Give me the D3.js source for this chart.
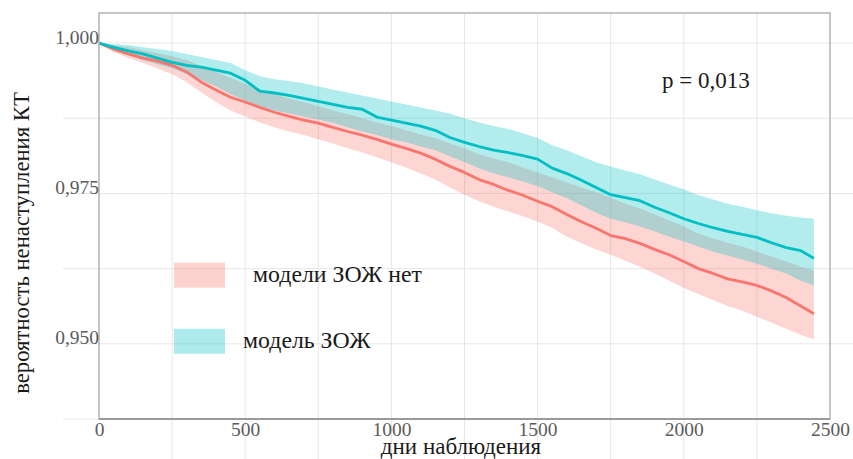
<!DOCTYPE html>
<html lang="ru">
<head>
<meta charset="UTF-8">
<title>Кривые дожития</title>
<script src="https://d3js.org/d3.v7.min.js"></script>
<style>
  body { margin: 0; background: #fff; }
  svg { display: block; font-family: "Liberation Serif", "Times New Roman", serif; }
  .grid line { stroke: #e6e6e6; stroke-width: 1; }
  .tick-label { fill: #5b5b5b; font-size: 19.5px; }
  .title { fill: #1a1a1a; font-size: 23px; }
</style>
</head>
<body>
<svg width="853" height="459"></svg>
<script>
// observation days (shared by all series)
const days = [0, 50, 100, 150, 200, 250, 300, 350, 400, 450, 500, 550, 600, 650, 700, 750, 800, 850, 900, 950,
  1000, 1050, 1100, 1150, 1200, 1250, 1300, 1350, 1400, 1450, 1500, 1550, 1600, 1650, 1700, 1750, 1800, 1850, 1900, 1950,
  2000, 2050, 2100, 2150, 2200, 2250, 2300, 2350, 2400, 2445];

// "модель ЗОЖ"
const zozhSurv = [1.0000, 0.9993, 0.9987, 0.9982, 0.9975, 0.9968, 0.9963, 0.9960, 0.9955, 0.9950,
  0.9938, 0.9920, 0.9917, 0.9913, 0.9908, 0.9903, 0.9898, 0.9893, 0.9890, 0.9877,
  0.9872, 0.9867, 0.9862, 0.9855, 0.9843, 0.9835, 0.9828, 0.9822, 0.9818, 0.9813,
  0.9807, 0.9792, 0.9783, 0.9772, 0.9760, 0.9748, 0.9743, 0.9738, 0.9727, 0.9718,
  0.9708, 0.9700, 0.9693, 0.9687, 0.9682, 0.9677, 0.9668, 0.9660, 0.9655, 0.9642];
const zozhUpper = [1.0000, 0.9998, 0.9997, 0.9993, 0.9990, 0.9987, 0.9982, 0.9977, 0.9972, 0.9967,
  0.9955, 0.9945, 0.9940, 0.9937, 0.9933, 0.9928, 0.9923, 0.9918, 0.9913, 0.9908,
  0.9903, 0.9898, 0.9893, 0.9888, 0.9883, 0.9875, 0.9868, 0.9862, 0.9857, 0.9850,
  0.9842, 0.9830, 0.9822, 0.9812, 0.9802, 0.9795, 0.9788, 0.9782, 0.9773, 0.9765,
  0.9757, 0.9747, 0.9740, 0.9733, 0.9728, 0.9722, 0.9717, 0.9713, 0.9710, 0.9708];
const zozhLower = [1.0000, 0.9988, 0.9980, 0.9972, 0.9965, 0.9958, 0.9948, 0.9938, 0.9928, 0.9915,
  0.9905, 0.9895, 0.9888, 0.9883, 0.9878, 0.9873, 0.9867, 0.9860, 0.9853, 0.9847,
  0.9840, 0.9835, 0.9828, 0.9822, 0.9812, 0.9802, 0.9792, 0.9783, 0.9777, 0.9770,
  0.9762, 0.9752, 0.9742, 0.9730, 0.9718, 0.9708, 0.9702, 0.9695, 0.9687, 0.9678,
  0.9670, 0.9662, 0.9653, 0.9647, 0.9640, 0.9633, 0.9625, 0.9617, 0.9605, 0.9597];

// "модели ЗОЖ нет"
const noZozhSurv = [1.0000, 0.9990, 0.9982, 0.9975, 0.9970, 0.9963, 0.9952, 0.9935, 0.9922, 0.9910,
  0.9902, 0.9893, 0.9885, 0.9878, 0.9872, 0.9867, 0.9860, 0.9853, 0.9847, 0.9840,
  0.9832, 0.9825, 0.9817, 0.9807, 0.9795, 0.9785, 0.9773, 0.9765, 0.9755, 0.9747,
  0.9737, 0.9728, 0.9715, 0.9703, 0.9692, 0.9680, 0.9675, 0.9667, 0.9657, 0.9648,
  0.9637, 0.9625, 0.9617, 0.9608, 0.9603, 0.9597, 0.9588, 0.9577, 0.9563, 0.9550];
const noZozhUpper = [1.0000, 0.9997, 0.9993, 0.9988, 0.9983, 0.9978, 0.9972, 0.9962, 0.9952, 0.9942,
  0.9932, 0.9923, 0.9915, 0.9908, 0.9902, 0.9895, 0.9888, 0.9882, 0.9875, 0.9868,
  0.9862, 0.9855, 0.9848, 0.9842, 0.9833, 0.9825, 0.9815, 0.9808, 0.9802, 0.9793,
  0.9785, 0.9777, 0.9768, 0.9760, 0.9752, 0.9743, 0.9733, 0.9725, 0.9715, 0.9705,
  0.9695, 0.9683, 0.9675, 0.9668, 0.9662, 0.9653, 0.9645, 0.9637, 0.9628, 0.9622];
const noZozhLower = [1.0000, 0.9985, 0.9975, 0.9967, 0.9958, 0.9948, 0.9935, 0.9918, 0.9902, 0.9888,
  0.9878, 0.9868, 0.9860, 0.9853, 0.9847, 0.9840, 0.9833, 0.9825, 0.9818, 0.9810,
  0.9802, 0.9793, 0.9783, 0.9773, 0.9760, 0.9748, 0.9737, 0.9728, 0.9720, 0.9712,
  0.9703, 0.9693, 0.9678, 0.9667, 0.9657, 0.9648, 0.9638, 0.9628, 0.9617, 0.9605,
  0.9593, 0.9583, 0.9573, 0.9563, 0.9555, 0.9545, 0.9535, 0.9525, 0.9515, 0.9507];

const xTicks = [0, 500, 1000, 1500, 2000, 2500];
const xGrid = [250, 500, 750, 1000, 1250, 1500, 1750, 2000, 2250];
const yTicks = [0.950, 0.975, 1.000];
const yGrid = [0.9375, 0.950, 0.9625, 0.975, 0.9875, 1.000];

const groups = [
  { label: "модели ЗОЖ нет", surv: noZozhSurv, lo: noZozhLower, hi: noZozhUpper, color: "#F8766D" },
  { label: "модель ЗОЖ", surv: zozhSurv, lo: zozhLower, hi: zozhUpper, color: "#00BFC4" }
];

const svg = d3.select("svg");
const panel = { left: 99, right: 830, top: 13, bottom: 419 };

const x = d3.scaleLinear().domain([0, 2500]).range([panel.left, panel.right]);
const y = d3.scaleLinear().domain([0.9375, 1.005]).range([panel.bottom, panel.top]);

const ru = d3.formatLocale({ decimal: ",", thousands: " ", grouping: [3], currency: ["", ""] });
const fmt = ru.format(".3f");

// grid lines (they run past the panel in the original)
const grid = svg.append("g").attr("class", "grid");
grid.selectAll(".h").data(yGrid).enter().append("line")
    .attr("x1", 63).attr("x2", d => d === 0.9375 ? panel.right : 853)
    .attr("y1", d => y(d)).attr("y2", d => y(d));
grid.selectAll(".v").data(xGrid).enter().append("line")
    .attr("x1", d => x(d)).attr("x2", d => x(d))
    .attr("y1", panel.top).attr("y2", 459);

// confidence bands
const area = d3.area()
    .x((d, i) => x(days[i]))
    .y0(d => y(d[0]))
    .y1(d => y(d[1]));

groups.forEach(g => {
    svg.append("path")
        .datum(days.map((d, i) => [g.lo[i], g.hi[i]]))
        .attr("fill", g.color)
        .attr("fill-opacity", 0.3)
        .attr("d", area);
});

// survival lines
const line = d3.line()
    .x((d, i) => x(days[i]))
    .y(d => y(d));

groups.forEach(g => {
    svg.append("path")
        .datum(g.surv)
        .attr("fill", "none")
        .attr("stroke", g.color)
        .attr("stroke-width", 2.8)
        .attr("stroke-linejoin", "round")
        .attr("d", line);
});

// panel frame
svg.append("rect")
    .attr("x", panel.left).attr("y", panel.top)
    .attr("width", panel.right - panel.left).attr("height", panel.bottom - panel.top)
    .attr("fill", "none").attr("stroke", "#b3b3b3").attr("stroke-width", 1.5);
svg.append("line")
    .attr("x1", panel.left).attr("x2", panel.right).attr("y1", panel.bottom).attr("y2", panel.bottom)
    .attr("stroke", "#9a9a9a").attr("stroke-width", 2);

// axes
const yAxis = svg.append("g")
    .attr("transform", `translate(${panel.left},0)`)
    .call(d3.axisLeft(y).tickValues(yTicks).tickFormat(fmt).tickSize(0).tickPadding(0));
yAxis.select(".domain").remove();
yAxis.selectAll("text").attr("class", "tick-label").attr("dy", 0);
yAxis.attr("font-size", null).attr("font-family", null);

const xAxis = svg.append("g")
    .attr("transform", `translate(0,${panel.bottom})`)
    .call(d3.axisBottom(x).tickValues(xTicks).tickFormat(d3.format("d")).tickSize(0).tickPadding(17));
xAxis.select(".domain").remove();
xAxis.selectAll("text").attr("class", "tick-label").attr("dy", 0);
xAxis.attr("font-size", null).attr("font-family", null);

// axis titles
svg.append("text").attr("class", "title")
    .attr("x", 461).attr("y", 454).attr("text-anchor", "middle")
    .text("дни наблюдения");
svg.append("text").attr("class", "title")
    .attr("transform", "translate(29,243) rotate(-90)")
    .attr("text-anchor", "middle")
    .style("font-size", "22.7px")
    .text("вероятность ненаступления КТ");

// p value
svg.append("text").attr("class", "title")
    .attr("x", 662).attr("y", 88)
    .text("p = 0,013");

// legend
const legendY = [0.9615, 0.9505];
groups.forEach((g, i) => {
    const cy = y(legendY[i]);
    svg.append("rect")
        .attr("x", 174).attr("y", cy - 12).attr("width", 51).attr("height", 25)
        .attr("fill", g.color).attr("fill-opacity", 0.32);
    svg.append("text").attr("class", "title")
        .attr("x", i === 0 ? 253 : 243).attr("y", cy + 7)
        .style("font-size", "23.8px")
        .text(g.label);
});
</script>
</body>
</html>
